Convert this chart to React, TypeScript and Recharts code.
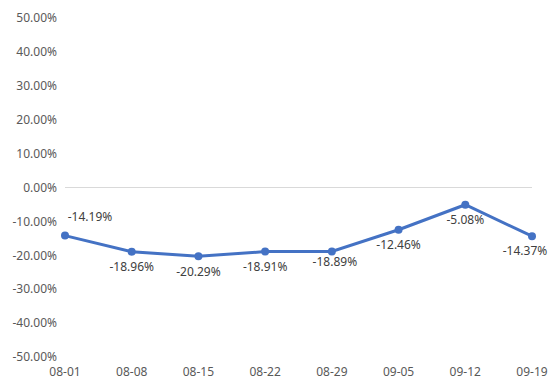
import { LineChart, Line, XAxis, YAxis, ReferenceLine } from "recharts";

const DATES = ["08-01", "08-08", "08-15", "08-22", "08-29", "09-05", "09-12", "09-19"];
const CHANGE = [-14.19, -18.96, -20.29, -18.91, -18.89, -12.46, -5.08, -14.37];
const Y_TICKS = [-50, -40, -30, -20, -10, 0, 10, 20, 30, 40, 50];

const FONT = "'Noto Sans', 'DejaVu Sans', sans-serif";
const BLUE = "#4472C4";

const data = DATES.map((d, i) => ({ date: d, change: CHANGE[i] }));

const fmt = (v: number) => `${v.toFixed(2)}%`;

// labels sit under the points, the first one goes above (axis is in the way)
function PointLabel(props: any) {
  const { x, y, value, index } = props;
  const last = index === DATES.length - 1;
  const first = index === 0;
  const dx = first ? 25 : last ? -7 : index === 4 ? 3 : 0;
  const dy = first ? -18 : index === 4 ? 11 : 16;
  return (
    <text
      x={x + dx}
      y={y + dy}
      textAnchor="middle"
      dominantBaseline="middle"
      fontSize={12}
      fontFamily={FONT}
      fill="#404040"
    >
      {fmt(value)}
    </text>
  );
}

export default function App() {
  return (
    <div style={{ position: "absolute", left: 0, top: 0, background: "#fff" }}>
      <LineChart width={554} height={388} data={data} margin={{ top: 18, right: 22, bottom: 0, left: 0 }}>
        <XAxis
          dataKey="date"
          axisLine={false}
          tickLine={false}
          tickSize={0}
          tickMargin={10}
          height={31}
          padding={{ left: 0, right: 0 }}
          interval={0}
          tick={{ fontSize: 12, fill: "#595959", fontFamily: FONT }}
        />
        <YAxis
          domain={[-50, 50]}
          ticks={Y_TICKS}
          width={65}
          axisLine={false}
          tickLine={false}
          tickSize={0}
          tickMargin={8}
          tickFormatter={fmt}
          tick={{ fontSize: 12, fill: "#595959", fontFamily: FONT }}
        />
        <ReferenceLine y={0} stroke="#d9d9d9" strokeWidth={1} />
        <Line
          dataKey="change"
          stroke={BLUE}
          strokeWidth={3}
          dot={{ r: 4, fill: BLUE, stroke: BLUE, strokeWidth: 0 }}
          activeDot={false}
          label={<PointLabel />}
          isAnimationActive={false}
        />
      </LineChart>
    </div>
  );
}
